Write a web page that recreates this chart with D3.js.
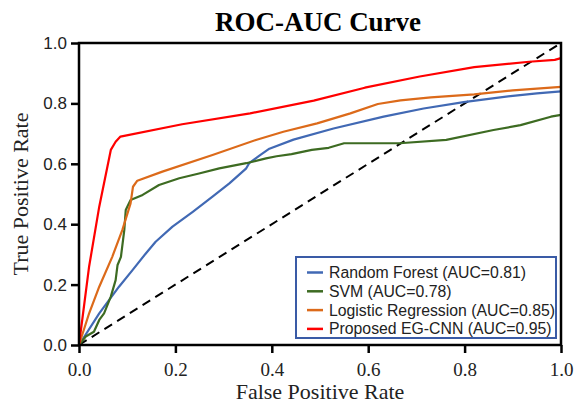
<!DOCTYPE html>
<html>
<head>
<meta charset="utf-8">
<script src="https://cdn.jsdelivr.net/npm/d3@7"></script>
<style>
  body { margin: 0; background: #fff; }
</style>
</head>
<body>
<div id="chart"></div>
<script>
// 曲线数据
const rfFpr  = [0, 0.042, 0.083, 0.111, 0.139, 0.159, 0.194, 0.236, 0.277, 0.312, 0.347, 0.353, 0.375, 0.395, 0.445, 0.528, 0.632, 0.715, 0.798, 0.85, 0.9, 0.95, 1.0];
const rfTpr  = [0, 0.105, 0.193, 0.248, 0.304, 0.342, 0.392, 0.441, 0.491, 0.535, 0.585, 0.602, 0.628, 0.65, 0.68, 0.717, 0.756, 0.783, 0.804, 0.815, 0.825, 0.833, 0.84];

const svmFpr = [0, 0.014, 0.031, 0.042, 0.052, 0.066, 0.076, 0.08, 0.087, 0.094, 0.097, 0.107, 0.132, 0.166, 0.208, 0.249, 0.291, 0.347, 0.388, 0.41, 0.441, 0.483, 0.518, 0.55, 0.665, 0.762, 0.86, 0.916, 0.979, 1.0];
const svmTpr = [0, 0.028, 0.044, 0.083, 0.105, 0.16, 0.215, 0.265, 0.292, 0.381, 0.447, 0.48, 0.497, 0.53, 0.552, 0.568, 0.585, 0.602, 0.618, 0.625, 0.632, 0.646, 0.653, 0.668, 0.668, 0.679, 0.712, 0.728, 0.756, 0.762];

const lrFpr  = [0, 0.021, 0.042, 0.069, 0.09, 0.107, 0.112, 0.121, 0.173, 0.277, 0.367, 0.424, 0.494, 0.563, 0.62, 0.667, 0.73, 0.82, 0.9, 1.0];
const lrTpr  = [0, 0.105, 0.193, 0.292, 0.381, 0.469, 0.524, 0.544, 0.574, 0.629, 0.679, 0.706, 0.734, 0.767, 0.798, 0.81, 0.82, 0.83, 0.843, 0.855];

const cnnFpr = [0, 0.021, 0.042, 0.066, 0.076, 0.086, 0.214, 0.355, 0.487, 0.593, 0.707, 0.82, 0.934, 0.987, 1.0];
const cnnTpr = [0, 0.26, 0.458, 0.646, 0.673, 0.69, 0.731, 0.767, 0.809, 0.852, 0.889, 0.92, 0.938, 0.944, 0.95];

const modelNames = ["Random Forest (AUC=0.81)", "SVM (AUC=0.78)", "Logistic Regression (AUC=0.85)", "Proposed EG-CNN (AUC=0.95)"];
const modelColors = ["#4169b4", "#3d6b22", "#dc6a1a", "#ff0000"];
const tickValues = [0, 0.2, 0.4, 0.6, 0.8, 1.0];

const width = 574, height = 405;
const margin = { top: 43, right: 13, bottom: 60, left: 79 };
const innerW = width - margin.left - margin.right;
const innerH = height - margin.top - margin.bottom;

const svg = d3.select("#chart").append("svg")
    .attr("width", width)
    .attr("height", height);

const g = svg.append("g")
    .attr("transform", `translate(${margin.left},${margin.top})`);

const x = d3.scaleLinear().domain([0, 1]).range([0, innerW]);
const y = d3.scaleLinear().domain([0, 1]).range([innerH, 0]);

// 曲线
const series = [
    { fpr: rfFpr, tpr: rfTpr },
    { fpr: svmFpr, tpr: svmTpr },
    { fpr: lrFpr, tpr: lrTpr },
    { fpr: cnnFpr, tpr: cnnTpr }
];

const line = d3.line()
    .x(d => x(d[0]))
    .y(d => y(d[1]));

// 对角线
g.append("path")
    .attr("d", line([[0, 0], [1, 1]]))
    .attr("fill", "none")
    .attr("stroke", "#000")
    .attr("stroke-width", 2)
    .attr("stroke-dasharray", "9,6");

series.forEach((s, i) => {
    const pts = s.fpr.map((f, j) => [f, s.tpr[j]]);
    g.append("path")
        .attr("d", line(pts))
        .attr("fill", "none")
        .attr("stroke", modelColors[i])
        .attr("stroke-width", 2.2)
        .attr("stroke-linejoin", "round");
});

// 坐标轴
const xAxis = g.append("g")
    .attr("transform", `translate(0,${innerH})`)
    .call(d3.axisBottom(x).tickValues(tickValues).tickFormat(d3.format(".1f")).tickSize(8).tickSizeOuter(0));
xAxis.select(".domain").remove();
xAxis.selectAll("line").attr("stroke", "#000").attr("stroke-width", 2.5);
xAxis.selectAll("text")
    .attr("font-family", "'Liberation Serif', 'Times New Roman', serif")
    .attr("font-size", 19)
    .attr("fill", "#222")
    .attr("dy", "1.05em");

const yAxis = g.append("g")
    .call(d3.axisLeft(y).tickValues(tickValues).tickFormat(d3.format(".1f")).tickSize(8).tickSizeOuter(0));
yAxis.select(".domain").remove();
yAxis.selectAll("line").attr("stroke", "#000").attr("stroke-width", 2.5);
yAxis.selectAll("text")
    .attr("font-family", "'Liberation Sans', 'Open Sans', sans-serif")
    .attr("font-size", 17)
    .attr("fill", "#222")
    .attr("x", -12);

// 边框
g.append("rect")
    .attr("x", 0).attr("y", 0)
    .attr("width", innerW).attr("height", innerH)
    .attr("fill", "none")
    .attr("stroke", "#000")
    .attr("stroke-width", 2.5);

// 标题和轴标签
svg.append("text")
    .attr("x", 318).attr("y", 31)
    .attr("text-anchor", "middle")
    .attr("font-family", "'Liberation Serif', 'Times New Roman', serif")
    .attr("font-weight", "bold")
    .attr("font-size", 27)
    .text("ROC-AUC Curve");

svg.append("text")
    .attr("x", margin.left + innerW / 2).attr("y", 399)
    .attr("text-anchor", "middle")
    .attr("font-family", "'Liberation Serif', 'Times New Roman', serif")
    .attr("font-size", 22)
    .attr("fill", "#222")
    .text("False Positive Rate");

svg.append("text")
    .attr("transform", `translate(28,${margin.top + innerH / 2}) rotate(-90)`)
    .attr("text-anchor", "middle")
    .attr("font-family", "'Liberation Serif', 'Times New Roman', serif")
    .attr("font-size", 22)
    .attr("fill", "#222")
    .text("True Positive Rate");

// 图例
const legend = svg.append("g").attr("transform", "translate(296,257)");
legend.append("rect")
    .attr("width", 260).attr("height", 81)
    .attr("fill", "#fff")
    .attr("stroke", "#3a5ba6")
    .attr("stroke-width", 2);

modelNames.forEach((name, i) => {
    const yy = 15.5 + i * 18.8;
    legend.append("line")
        .attr("x1", 11).attr("x2", 27)
        .attr("y1", yy).attr("y2", yy)
        .attr("stroke", modelColors[i])
        .attr("stroke-width", 2.5);
    legend.append("text")
        .attr("x", 33).attr("y", yy)
        .attr("dy", "0.35em")
        .attr("font-family", "'Liberation Sans', 'Open Sans', sans-serif")
        .attr("font-size", 15.8)
        .attr("fill", "#222")
        .text(name);
});
</script>
</body>
</html>
